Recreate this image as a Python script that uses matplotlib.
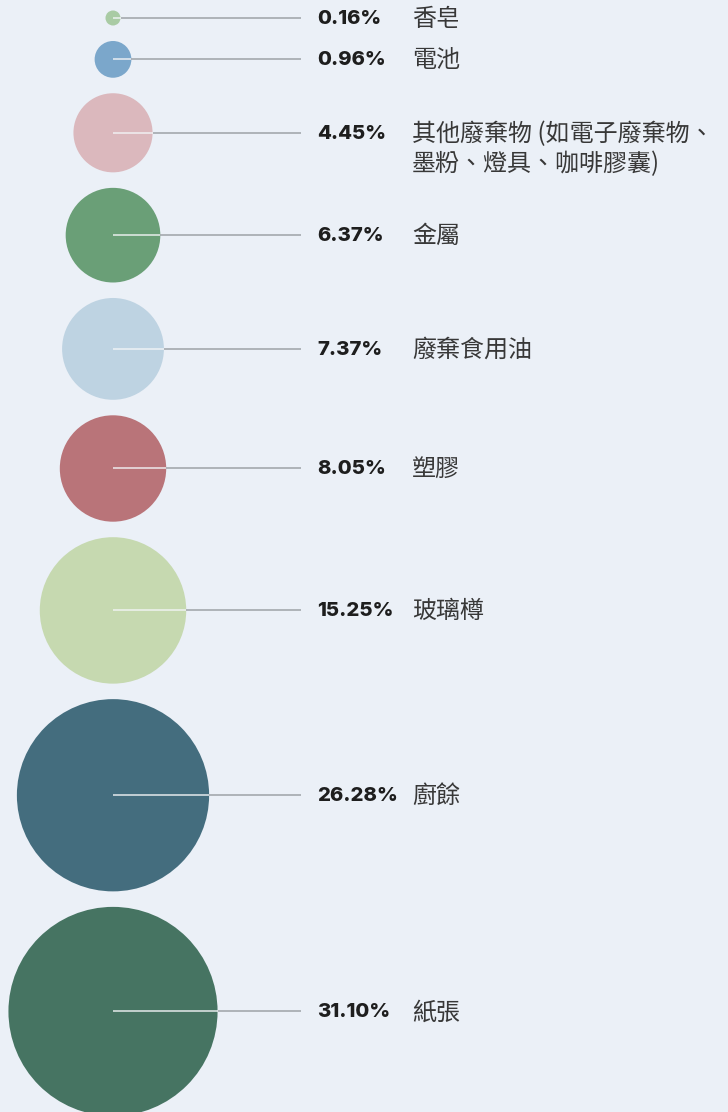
import numpy as np
import matplotlib
matplotlib.use("Agg")
import matplotlib.pyplot as plt
from matplotlib.patches import Circle

# data
labels = ["香皂", "電池", "其他廢棄物 (如電子廢棄物、\n墨粉、燈具、咖啡膠囊)", "金屬",
          "廢棄食用油", "塑膠", "玻璃樽", "廚餘", "紙張"]
pcts = [0.16, 0.96, 4.45, 6.37, 7.37, 8.05, 15.25, 26.28, 31.10]
pct_txt = ["0.16%", "0.96%", "4.45%", "6.37%", "7.37%", "8.05%", "15.25%", "26.28%", "31.10%"]
colors = ["#a9cba4", "#7ba7cb", "#dbb8bd", "#6a9f77", "#bed3e2",
          "#b97479", "#c6d9b0", "#446d7e", "#467462"]

W, H = 728, 1112
bg = "#ebf0f7"

fig = plt.figure(figsize=(W / 100, H / 100), dpi=100, facecolor=bg)
ax = fig.add_axes([0, 0, 1, 1])
ax.set_xlim(0, W)
ax.set_ylim(H, 0)
ax.set_aspect("equal")
ax.axis("off")
ax.set_facecolor(bg)

k = 18.75      # radius scale, area ~ value
gap = 15.5
cx = 113
radii = k * np.sqrt(np.array(pcts))

# stack circles top to bottom
ys = []
for i, r in enumerate(radii):
    if i == 0:
        ys.append(18.0)
    else:
        ys.append(ys[-1] + radii[i - 1] + gap + r)

cjk = ["Noto Sans CJK TC", "DejaVu Sans"]
for i in range(len(pcts)):
    ax.add_patch(Circle((cx, ys[i]), radii[i], facecolor=colors[i], edgecolor="none", zorder=1))
    # white part inside circle, grey part outside
    ax.plot([cx, cx + radii[i]], [ys[i], ys[i]], color="#f2f4f6", lw=1.2, alpha=0.85,
            zorder=2, solid_capstyle="butt")
    ax.plot([cx + radii[i], 301], [ys[i], ys[i]], color="#a4a8ad", lw=1.2, zorder=2,
            solid_capstyle="butt")
    ax.text(317, ys[i] + 1, pct_txt[i], fontsize=14.6, fontweight="heavy", color="#1e1e1e",
            family=["Inter", "DejaVu Sans"], va="center", ha="left")
    for j, line in enumerate(labels[i].split("\n")):
        ax.text(412, ys[i] + 1 + j * 30, line, fontsize=17.3, color="#383838",
                family=cjk, va="center", ha="left")

fig.savefig("out.png", dpi=100, facecolor=bg)
